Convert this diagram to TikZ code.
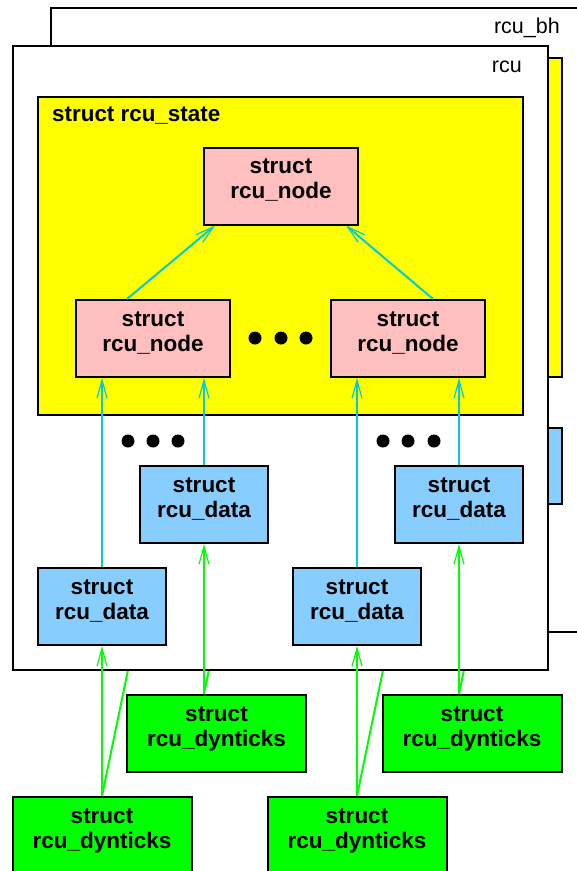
\documentclass[tikz,border=0pt]{standalone}
\usepackage{fontspec}
\setmainfont{Liberation Sans}
\usetikzlibrary{arrows.meta}
\definecolor{pinkc}{RGB}{255,191,191}
\definecolor{bluec}{RGB}{135,206,255}
\definecolor{cyanc}{RGB}{0,206,209}
\definecolor{greenc}{RGB}{0,255,0}
\definecolor{yellowc}{RGB}{255,255,0}
\pgfdeclarelayer{back}
\pgfdeclarelayer{mid}
\pgfdeclarelayer{front}
\pgfsetlayers{back,mid,front,main}
\begin{document}
\begin{tikzpicture}[x=1pt,y=-1pt,
  frame/.style={draw=black, line width=2pt, fill=white},
  ybox/.style={draw=black, line width=2pt, fill=yellowc},
  box/.style={draw=black, line width=2pt, inner sep=0pt, align=center, text depth=14pt,
    font=\fontsize{22.5}{25}\selectfont\bfseries},
  pinkbox/.style={box, fill=pinkc, minimum width=154pt, minimum height=77pt},
  bluebox/.style={box, fill=bluec, minimum width=128pt, minimum height=77pt},
  greenbox/.style={box, fill=greenc, minimum width=179pt, minimum height=77pt},
  lbl/.style={inner sep=0pt, font=\fontsize{21.5}{25}\selectfont},
  tip/.style={-{Straight Barb[length=18pt,width=10pt,line width=1.2pt]}},
  carr/.style={draw=cyanc, line width=2pt, tip},
  garr/.style={draw=greenc, line width=2pt, tip},
  gline/.style={draw=greenc, line width=2pt},
  dot/.style={fill=black, circle, inner sep=0pt, minimum size=13pt}]
\useasboundingbox (0,0) rectangle (577,871);

% back copy (rcu_bh)
\begin{pgfonlayer}{back}
  \draw[frame] (51,8) rectangle (600,632);
  \draw[ybox] (76,58) rectangle (562,377);
  \draw[draw=black, line width=2pt, fill=bluec] (434,428) rectangle (562,504);
  \coordinate (bbul) at (243,505);
  \coordinate (bbur) at (498,505);
  \coordinate (bbll) at (141,607);
  \coordinate (bblr) at (396,607);
\end{pgfonlayer}
\node[lbl, anchor=base east] (lbh) at (560,33) {rcu\_bh};

% front frame (rcu)
\begin{pgfonlayer}{front}
  \draw[frame] (13,46) rectangle (548,670);
  \draw[ybox] (38,97) rectangle (523,415);
\end{pgfonlayer}
\node[lbl, anchor=base east] (lrcu) at (522,72) {rcu};
\node[inner sep=0pt, anchor=base west, font=\fontsize{22.4}{25}\selectfont\bfseries] (lstate) at (52,121) {struct rcu\_state};

% rcu_node
\node[pinkbox] (tp) at (281,186) {struct\\rcu\_node};
\node[pinkbox] (lp) at (153,338.5) {struct\\rcu\_node};
\node[pinkbox] (rp) at (408,338.5) {struct\\rcu\_node};
\node[dot] (d1) at (255,338) {};
\node[dot] (d2) at (281,338) {};
\node[dot] (d3) at (306,338) {};

% rcu_data
\node[bluebox] (bul) at (204,504.5) {struct\\rcu\_data};
\node[bluebox] (bur) at (459,504.5) {struct\\rcu\_data};
\node[bluebox] (bll) at (102,606.5) {struct\\rcu\_data};
\node[bluebox] (blr) at (357,606.5) {struct\\rcu\_data};
\node[dot] (e1) at (128,441) {};
\node[dot] (e2) at (153,441) {};
\node[dot] (e3) at (178,441) {};
\node[dot] (f1) at (383,441) {};
\node[dot] (f2) at (408,441) {};
\node[dot] (f3) at (434,441) {};

% rcu_dynticks
\node[greenbox] (gul) at (216.5,733.5) {struct\\rcu\_dynticks};
\node[greenbox] (gur) at (472,733.5) {struct\\rcu\_dynticks};
\node[greenbox] (gll) at (102,835.5) {struct\\rcu\_dynticks};
\node[greenbox] (glr) at (357,835.5) {struct\\rcu\_dynticks};

% cyan arrows
\draw[carr] ([xshift=-26pt]lp.north) -- ([xshift=-66pt]tp.south);
\draw[carr] ([xshift=25pt]rp.north) -- ([xshift=65pt]tp.south);
\draw[carr] (bll.north) -- (bll.north |- lp.south);
\draw[carr] (bul.north) -- (bul.north |- lp.south);
\draw[carr] (blr.north) -- (blr.north |- rp.south);
\draw[carr] (bur.north) -- (bur.north |- rp.south);

% green arrows
\draw[garr] (gll.north) -- (bll.south);
\draw[garr] (bul.south |- gul.north) -- (bul.south);
\draw[garr] (glr.north) -- (blr.south);
\draw[garr] (bur.south |- gur.north) -- (bur.south);
\begin{pgfonlayer}{mid}
  \draw[gline] (gll.north) -- (bbll);
  \draw[gline] (bul.south |- gul.north) -- (bbul);
  \draw[gline] (glr.north) -- (bblr);
  \draw[gline] (bur.south |- gur.north) -- (bbur);
\end{pgfonlayer}
\end{tikzpicture}
\end{document}
